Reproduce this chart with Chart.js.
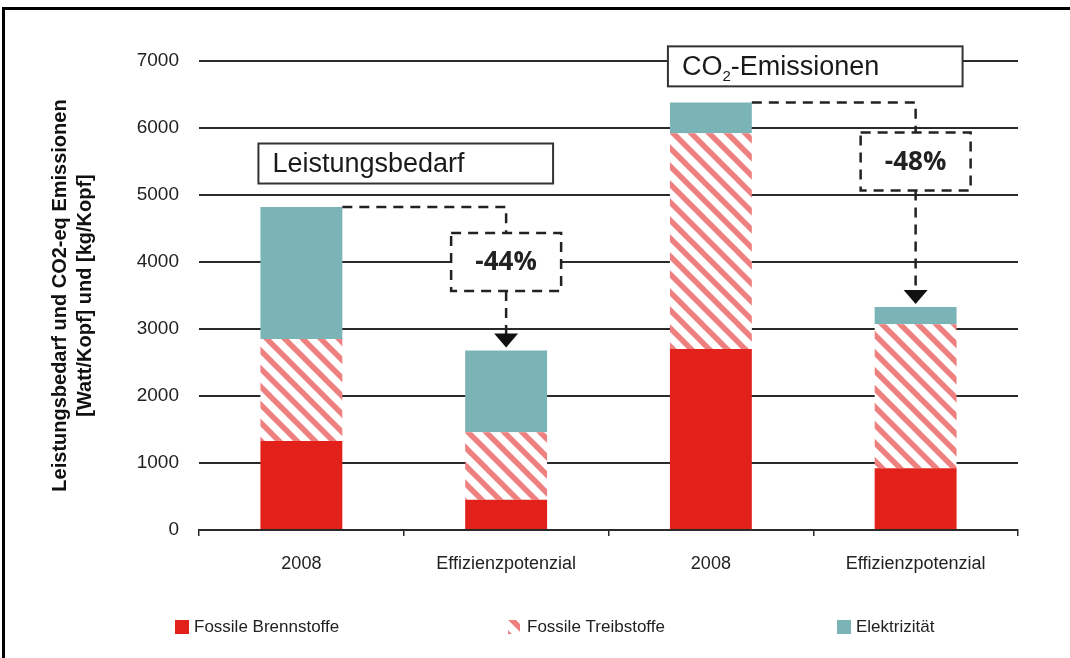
<!DOCTYPE html>
<html>
<head>
<meta charset="utf-8">
<script src="https://cdn.jsdelivr.net/npm/chart.js@4.4.1/dist/chart.umd.min.js"></script>
<style>
  html, body { margin: 0; padding: 0; background: #fff; overflow: hidden; }
  #wrap { position: relative; width: 1070px; height: 658px; }
  #frame { position: absolute; left: 2px; top: 7px; width: 1100px; height: 700px;
           border: 3px solid #000; box-sizing: border-box; pointer-events: none; }
  canvas { position: absolute; left: 0; top: 0; }
</style>
</head>
<body>
<div id="wrap">
  <canvas id="c" width="1070" height="658"></canvas>
  <div id="frame"></div>
</div>
<script>
// ---- data ----
const categories = ['2008', 'Effizienzpotenzial', '2008', 'Effizienzpotenzial'];
const seriesLabels = ['Fossile Brennstoffe', 'Fossile Treibstoffe', 'Elektrizität'];
const fossileBrennstoffe = [1330, 450, 2700, 920];
const fossileTreibstoffe = [1520, 1010, 3220, 2150];
const elektrizitaet = [1970, 1220, 460, 260];
const yTickValues = [0, 1000, 2000, 3000, 4000, 5000, 6000, 7000];
const yAxisTitle = ['Leistungsbedarf und CO2-eq Emissionen', '[Watt/Kopf] und [kg/Kopf]'];
// reduction arrows: from bar index -> to bar index, label, value at which the label box sits
const reductionFrom = [0, 2];
const reductionTo = [1, 3];
const reductionLabels = ['-44%', '-48%'];
const reductionBoxValues = [4000, 5500];
// group headings (parts marked sub are drawn as subscript)
const groupHeadings = [
  [{ t: 'Leistungsbedarf' }],
  [{ t: 'CO' }, { t: '2', sub: true }, { t: '-Emissionen' }]
];
const groupHeadingValues = [5470, 6920];
const groupFirstBar = [0, 2];
const groupLastBar = [1, 3];

// ---- styles ----
const RED = '#e3211b';
const TEAL = '#7bb4b7';
const STRIPE = 'rgb(238,128,128)';
const NARROW = '"Liberation Sans Narrow", "Arial Narrow", "Liberation Sans", Arial, sans-serif';
const SANS = '"Liberation Sans", Arial, sans-serif';
const GRID = '#2a2a2a';

function makeHatch() {
  const s = 18;
  const tile = document.createElement('canvas');
  tile.width = s; tile.height = s;
  const g = tile.getContext('2d');
  g.fillStyle = '#fff';
  g.fillRect(0, 0, s, s);
  g.strokeStyle = STRIPE;
  g.lineWidth = 5.5;
  g.lineCap = 'square';
  g.beginPath();
  g.moveTo(-s, 0); g.lineTo(s, 2 * s);
  g.moveTo(0, 0); g.lineTo(s, s);
  g.moveTo(0, -s); g.lineTo(2 * s, s);
  g.stroke();
  return g.createPattern(tile, 'repeat');
}

const ctx = document.getElementById('c').getContext('2d');
const hatch = makeHatch();

const reductionPlugin = {
  id: 'reductions',
  afterDatasetsDraw(chart) {
    const c = chart.ctx;
    const ys = chart.scales.y;
    const top = chart.getDatasetMeta(2).data;
    const bottom = chart.getDatasetMeta(0).data;
    c.save();

    // headings
    groupHeadings.forEach((parts, k) => {
      const a = bottom[groupFirstBar[k]], b = bottom[groupLastBar[k]];
      const x0 = a.x - a.width / 2 - 2;
      const x1 = b.x + b.width / 2 + 6;
      const cy = ys.getPixelForValue(groupHeadingValues[k]);
      const h = 40;
      c.fillStyle = '#fff';
      c.fillRect(x0, cy - h / 2, x1 - x0, h);
      c.strokeStyle = '#333';
      c.lineWidth = 2;
      c.setLineDash([]);
      c.strokeRect(x0, cy - h / 2, x1 - x0, h);
      c.fillStyle = '#1a1a1a';
      c.textBaseline = 'middle';
      c.textAlign = 'left';
      let x = x0 + 14;
      parts.forEach(p => {
        if (p.sub) {
          c.font = '15px ' + SANS;
          c.fillText(p.t, x, cy + 10);
        } else {
          c.font = '27px ' + SANS;
          c.fillText(p.t, x, cy + 1);
        }
        x += c.measureText(p.t).width;
      });
    });

    // dashed reduction arrows
    reductionFrom.forEach((fi, k) => {
      const from = top[fi], to = top[reductionTo[k]];
      const xs = from.x + from.width / 2;
      const y0 = from.y;
      const xc = to.x;
      const by = ys.getPixelForValue(reductionBoxValues[k]);
      const hw = 55, hh = 29;
      const tip = to.y - 3;
      c.strokeStyle = '#222';
      c.lineWidth = 2.5;
      c.setLineDash([10, 7]);
      c.beginPath();
      c.moveTo(xs, y0);
      c.lineTo(xc, y0);
      c.lineTo(xc, by - hh);
      c.stroke();
      c.fillStyle = '#fff';
      c.fillRect(xc - hw, by - hh, hw * 2, hh * 2);
      c.beginPath();
      c.rect(xc - hw, by - hh, hw * 2, hh * 2);
      c.stroke();
      c.beginPath();
      c.moveTo(xc, by + hh);
      c.lineTo(xc, tip - 13);
      c.stroke();
      c.setLineDash([]);
      c.fillStyle = '#111';
      c.beginPath();
      c.moveTo(xc - 12, tip - 14);
      c.lineTo(xc + 12, tip - 14);
      c.lineTo(xc, tip);
      c.closePath();
      c.fill();
      c.font = 'bold 26px "Open Sans", "Liberation Sans", sans-serif';
      c.textAlign = 'center';
      c.textBaseline = 'middle';
      c.fillStyle = '#222';
      c.fillText(reductionLabels[k], xc, by + 1);
    });
    c.restore();
  }
};

const legendPlugin = {
  id: 'bottomLegend',
  afterDraw(chart) {
    const c = chart.ctx;
    const xs = [175, 508, 837];
    const cy = 627;
    c.save();
    chart.data.datasets.forEach((ds, i) => {
      const x = xs[i];
      c.fillStyle = ds.backgroundColor;
      if (i === 1) {
        c.fillRect(x, cy - 7, 12, 14);
      } else {
        c.fillRect(x, cy - 7, 14, 14);
      }
      c.fillStyle = '#222';
      c.font = '17px ' + NARROW;
      c.textAlign = 'left';
      c.textBaseline = 'middle';
      c.fillText(ds.label, x + 19, cy);
    });
    c.restore();
  }
};

new Chart(ctx, {
  type: 'bar',
  data: {
    labels: categories,
    datasets: [
      { label: seriesLabels[0], data: fossileBrennstoffe, backgroundColor: RED },
      { label: seriesLabels[1], data: fossileTreibstoffe, backgroundColor: hatch },
      { label: seriesLabels[2], data: elektrizitaet, backgroundColor: TEAL }
    ]
  },
  options: {
    responsive: false,
    animation: false,
    devicePixelRatio: 1,
    datasets: { bar: { categoryPercentage: 1, barPercentage: 0.4, borderWidth: 0 } },
    layout: { padding: { left: 0, right: 52, top: 61, bottom: 0 } },
    plugins: { legend: { display: false }, tooltip: { enabled: false } },
    scales: {
      x: {
        stacked: true,
        offset: true,
        grid: { display: true, drawOnChartArea: false, drawTicks: true, tickLength: 6,
                offset: true, color: GRID, lineWidth: 1.5 },
        border: { display: true, color: GRID, width: 2 },
        ticks: { color: '#222', font: { family: NARROW, size: 18 }, padding: 17,
                 maxRotation: 0, autoSkip: false },
        afterFit(s) { s.height = 128; }
      },
      y: {
        stacked: true,
        min: 0,
        max: 7000,
        afterBuildTicks(s) { s.ticks = yTickValues.map(v => ({ value: v })); },
        grid: { color: GRID, lineWidth: 2, drawTicks: false },
        border: { display: false },
        ticks: { color: '#222', font: { family: NARROW, size: 19 }, padding: 20,
                 callback: v => String(v) },
        title: { display: true, text: yAxisTitle, color: '#111',
                 font: { family: NARROW, size: 20, weight: 'bold', lineHeight: 1.25 },
                 padding: { top: 48, bottom: 0 } },
        afterFit(s) { s.width = 199; }
      }
    }
  },
  plugins: [reductionPlugin, legendPlugin]
});
</script>
</body>
</html>
